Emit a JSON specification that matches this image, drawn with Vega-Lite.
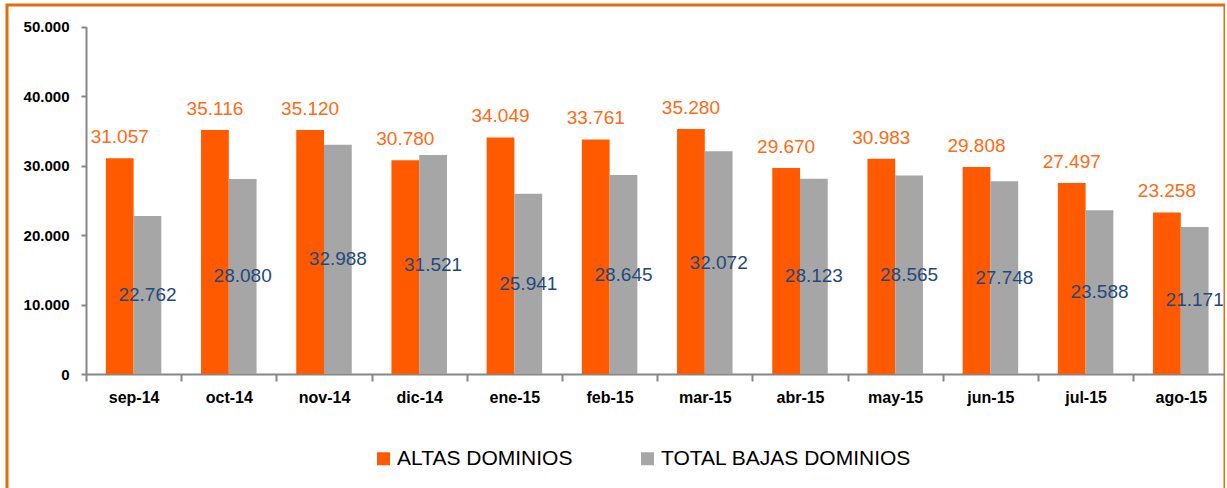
{
  "$schema": "https://vega.github.io/schema/vega-lite/v6.json",
  "autosize": {"type": "none"},
  "padding": {"left": 7, "top": 5, "right": 0, "bottom": 0},
  "width": 1218,
  "height": 490,
  "background": "white",
  "config": {
    "view": {"stroke": "#E46C0A", "strokeWidth": 3},
    "font": "Liberation Sans",
    "locale": {"number": {"decimal": ",", "thousands": ".", "grouping": [3], "currency": ["", " €"]}}
  },
  "data": {"values": [
    {"mes": "sep-14", "serie": "ALTAS DOMINIOS", "valor": 31057},
    {"mes": "sep-14", "serie": "TOTAL BAJAS DOMINIOS", "valor": 22762},
    {"mes": "oct-14", "serie": "ALTAS DOMINIOS", "valor": 35116},
    {"mes": "oct-14", "serie": "TOTAL BAJAS DOMINIOS", "valor": 28080},
    {"mes": "nov-14", "serie": "ALTAS DOMINIOS", "valor": 35120},
    {"mes": "nov-14", "serie": "TOTAL BAJAS DOMINIOS", "valor": 32988},
    {"mes": "dic-14", "serie": "ALTAS DOMINIOS", "valor": 30780},
    {"mes": "dic-14", "serie": "TOTAL BAJAS DOMINIOS", "valor": 31521},
    {"mes": "ene-15", "serie": "ALTAS DOMINIOS", "valor": 34049},
    {"mes": "ene-15", "serie": "TOTAL BAJAS DOMINIOS", "valor": 25941},
    {"mes": "feb-15", "serie": "ALTAS DOMINIOS", "valor": 33761},
    {"mes": "feb-15", "serie": "TOTAL BAJAS DOMINIOS", "valor": 28645},
    {"mes": "mar-15", "serie": "ALTAS DOMINIOS", "valor": 35280},
    {"mes": "mar-15", "serie": "TOTAL BAJAS DOMINIOS", "valor": 32072},
    {"mes": "abr-15", "serie": "ALTAS DOMINIOS", "valor": 29670},
    {"mes": "abr-15", "serie": "TOTAL BAJAS DOMINIOS", "valor": 28123},
    {"mes": "may-15", "serie": "ALTAS DOMINIOS", "valor": 30983},
    {"mes": "may-15", "serie": "TOTAL BAJAS DOMINIOS", "valor": 28565},
    {"mes": "jun-15", "serie": "ALTAS DOMINIOS", "valor": 29808},
    {"mes": "jun-15", "serie": "TOTAL BAJAS DOMINIOS", "valor": 27748},
    {"mes": "jul-15", "serie": "ALTAS DOMINIOS", "valor": 27497},
    {"mes": "jul-15", "serie": "TOTAL BAJAS DOMINIOS", "valor": 23588},
    {"mes": "ago-15", "serie": "ALTAS DOMINIOS", "valor": 23258},
    {"mes": "ago-15", "serie": "TOTAL BAJAS DOMINIOS", "valor": 21171}
  ]},
  "resolve": {"scale": {"y": "independent"}},
  "layer": [
    {
      "mark": {"type": "bar"},
      "encoding": {
        "x": {
          "field": "mes", "type": "nominal", "sort": null,
          "scale": {"range": [79, 1221.4], "paddingInner": 0, "paddingOuter": 0},
          "axis": {
            "title": null, "orient": "bottom", "offset": -121, "labelAngle": 0,
            "domainColor": "#868686", "domainWidth": 2,
            "tickBand": "extent", "tickColor": "#868686", "tickWidth": 2, "tickSize": 7,
            "labelFont": "Liberation Sans", "labelFontSize": 16, "labelFontWeight": "bold",
            "labelColor": "#000000", "labelPadding": 8
          }
        },
        "xOffset": {
          "field": "serie", "type": "nominal",
          "scale": {"domain": ["ALTAS DOMINIOS", "TOTAL BAJAS DOMINIOS"], "paddingInner": 0, "paddingOuter": 0.715}
        },
        "y": {
          "field": "valor", "type": "quantitative",
          "scale": {"domain": [0, 50000], "range": [369, 21.7], "nice": false},
          "axis": {
            "title": null, "offset": -79, "values": [0, 10000, 20000, 30000, 40000, 50000],
            "format": ",d", "grid": false,
            "domainColor": "#868686", "domainWidth": 2,
            "tickColor": "#868686", "tickWidth": 2, "tickSize": 5,
            "labelFont": "Liberation Sans", "labelFontSize": 15, "labelFontWeight": "bold",
            "labelColor": "#000000", "labelPadding": 12
          }
        },
        "color": {
          "field": "serie", "type": "nominal",
          "scale": {"domain": ["ALTAS DOMINIOS", "TOTAL BAJAS DOMINIOS"], "range": ["#FF5A00", "#A6A6A6"]},
          "legend": {
            "title": null, "orient": "none", "legendX": 366, "legendY": 443,
            "direction": "horizontal", "symbolType": "square", "symbolSize": 169,
            "symbolStrokeWidth": 0, "labelFont": "Liberation Sans", "labelFontSize": 21,
            "labelColor": "#000000", "labelOffset": 3, "labelLimit": 400,
            "columnPadding": 64, "padding": 0
          }
        }
      }
    },
    {
      "transform": [{"filter": "datum.serie === 'ALTAS DOMINIOS'"}],
      "mark": {"type": "text", "baseline": "alphabetic", "align": "center", "dy": -15,
               "font": "Liberation Sans", "fontSize": 19, "color": "#FF6A14"},
      "encoding": {
        "x": {"field": "mes", "type": "nominal", "sort": null},
        "xOffset": {"field": "serie", "type": "nominal",
          "scale": {"domain": ["ALTAS DOMINIOS", "TOTAL BAJAS DOMINIOS"], "paddingInner": 0, "paddingOuter": 0.715}},
        "y": {"field": "valor", "type": "quantitative",
          "scale": {"domain": [0, 50000], "range": [369, 21.7], "nice": false}, "axis": null},
        "text": {"field": "valor", "type": "quantitative", "format": ",d"}
      }
    },
    {
      "transform": [{"filter": "datum.serie === 'TOTAL BAJAS DOMINIOS'"}],
      "mark": {"type": "text", "baseline": "middle", "align": "center",
               "font": "Liberation Sans", "fontSize": 19, "color": "#1F497D"},
      "encoding": {
        "x": {"field": "mes", "type": "nominal", "sort": null},
        "xOffset": {"field": "serie", "type": "nominal",
          "scale": {"domain": ["ALTAS DOMINIOS", "TOTAL BAJAS DOMINIOS"], "paddingInner": 0, "paddingOuter": 0.715}},
        "y": {"field": "valor", "type": "quantitative",
          "scale": {"domain": [0, 100000], "range": [369, 21.7], "nice": false}, "axis": null},
        "text": {"field": "valor", "type": "quantitative", "format": ",d"}
      }
    }
  ]
}
